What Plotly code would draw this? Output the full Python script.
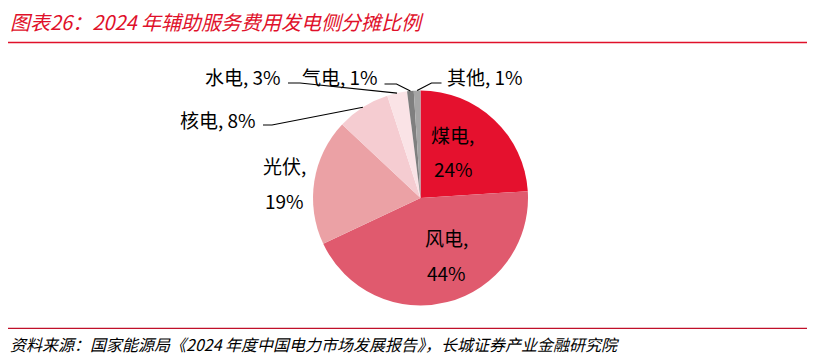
import math
import plotly.graph_objects as go

# page window size and the browser's default 8px body margin
PAGE_W, PAGE_H = 821, 357
OFF = 8
W, H = PAGE_W - OFF, PAGE_H - OFF

categories = ["煤电", "风电", "光伏", "核电", "水电", "气电", "其他"]
shares = [24, 44, 19, 8, 3, 1, 1]
colors = ["#E5112E", "#E05A6E", "#EBA1A5", "#F5CCD1", "#FAE3E6", "#7F7F7F", "#A5A5A5"]

title_text = "图表26：2024 年辅助服务费用发电侧分摊比例"
source_text = "资料来源：国家能源局《2024 年度中国电力市场发展报告》，长城证券产业金融研究院"

FONT = "Noto Sans CJK SC, Microsoft YaHei, sans-serif"

# pie geometry in page pixels
cx, cy, R = 420.5, 198.0, 107.5


def px(x):
    return (x - OFF) / W


def py(y):
    return 1 - (y - OFF) / H


fig = go.Figure(go.Pie(
    labels=categories,
    values=shares,
    sort=False,
    direction="clockwise",
    rotation=0,
    marker=dict(colors=colors, line=dict(width=0)),
    textinfo="none",
    hoverinfo="label+percent",
    domain=dict(x=[px(cx - R), px(cx + R)], y=[py(cy + R), py(cy - R)]),
    showlegend=False,
))

total = sum(shares)
cum = 0
mid_pts = {}
for c, v in zip(categories, shares):
    mid = (cum + v / 2) / total * 2 * math.pi
    mid_pts[c] = (cx + R * math.sin(mid), cy - R * math.cos(mid))
    cum += v

annotations = []
shapes = []


def label(text, x, y, anchor="left", size=19):
    annotations.append(dict(
        text=text, x=px(x), y=py(y), xref="paper", yref="paper",
        xanchor=anchor, yanchor="middle", showarrow=False,
        font=dict(family=FONT, size=size, color="#000000"),
    ))


lab = {c: f"{c}, {v}%" for c, v in zip(categories, shares)}
val = {c: f"{v}%" for c, v in zip(categories, shares)}

# inside / near labels (two lines)
label(categories[0] + ",", 452, 135, "center")
label(val["煤电"], 453, 168, "center")
label(categories[1] + ",", 446, 237, "center")
label(val["风电"], 446, 272, "center")
label(categories[2] + ",", 284, 165, "center")
label(val["光伏"], 284, 200, "center")

# outside labels with leader lines
outside = {
    "其他": dict(tx=445, ty=76, anchor="left", start=(441.5, 83), elbow=(431.5, 83)),
    "气电": dict(tx=380, ty=76, anchor="right", start=(384.5, 84), elbow=(396.5, 84)),
    "水电": dict(tx=283, ty=76, anchor="right", start=(288, 83), elbow=(300, 83)),
    "核电": dict(tx=258, ty=119, anchor="right", start=(263, 125), elbow=(272, 125)),
}
for c, o in outside.items():
    label(lab[c], o["tx"], o["ty"], o["anchor"])
    ex, ey = mid_pts[c]
    (sx, sy), (bx, by) = o["start"], o["elbow"]
    path = f"M {px(sx)} {py(sy)} L {px(bx)} {py(by)} L {px(ex)} {py(ey)}"
    shapes.append(dict(type="path", xref="paper", yref="paper", path=path,
                       line=dict(color="#000000", width=1.2)))

# title + rules
annotations.append(dict(
    text=f"<i>{title_text}</i>", x=px(8), y=py(21), xref="paper", yref="paper",
    xanchor="left", yanchor="middle", showarrow=False,
    font=dict(family=FONT, size=20, color="#E0102A"),
))
annotations.append(dict(
    text=f"<i>{source_text}</i>", x=px(8), y=py(344), xref="paper", yref="paper",
    xanchor="left", yanchor="middle", showarrow=False,
    font=dict(family=FONT, size=16, color="#000000"),
))
shapes.append(dict(type="line", xref="paper", yref="paper",
                   x0=px(8), x1=px(807), y0=py(42.5), y1=py(42.5),
                   line=dict(color="#E0102A", width=1.5)))
shapes.append(dict(type="line", xref="paper", yref="paper",
                   x0=px(8), x1=px(807), y0=py(328.3), y1=py(328.3),
                   line=dict(color="#C0102A", width=1.2)))

fig.update_layout(
    width=W, height=H,
    margin=dict(l=0, r=0, t=0, b=0),
    paper_bgcolor="white", plot_bgcolor="white",
    annotations=annotations, shapes=shapes,
)

fig.write_html("out.html")
